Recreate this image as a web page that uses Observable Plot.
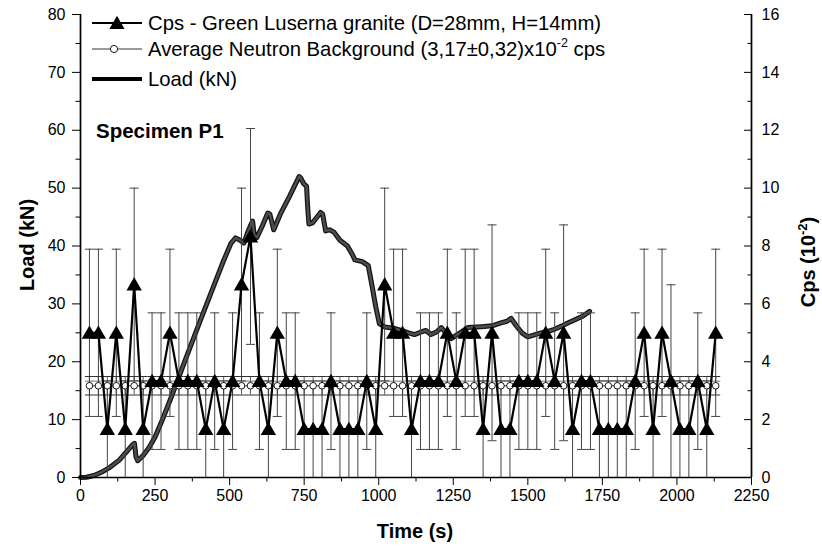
<!DOCTYPE html>
<html><head><meta charset="utf-8">
<script src="https://cdn.jsdelivr.net/npm/d3@7"></script>
<script src="https://cdn.jsdelivr.net/npm/@observablehq/plot@0.6"></script>
<style>
body{margin:0;background:#fff}
#chart{width:822px;height:553px}
</style>
</head><body><div id="chart"></div>
<script>
// ---- data ----
const sampleTime = [30,60,90,120,150,180,210,240,270,300,330,360,390,420,450,480,510,540,570,600,630,660,690,720,750,780,810,840,870,900,930,960,990,1020,1050,1080,1110,1140,1170,1200,1230,1260,1290,1320,1350,1380,1410,1440,1470,1500,1530,1560,1590,1620,1650,1680,1710,1740,1770,1800,1830,1860,1890,1920,1950,1980,2010,2040,2070,2100,2130];
const cpsValue = [5,5,1.67,5,1.67,6.67,1.67,3.33,3.33,5,3.33,3.33,3.33,1.67,3.33,1.67,3.33,6.67,8.33,3.33,1.67,5,3.33,3.33,1.67,1.67,1.67,3.33,1.67,1.67,1.67,3.33,1.67,6.67,5,5,1.67,3.33,3.33,3.33,5,3.33,5,5,1.67,5,1.67,1.67,3.33,3.33,3.33,5,3.33,5,1.67,3.33,3.33,1.67,1.67,1.67,1.67,3.33,5,1.67,5,3.33,1.67,1.67,3.33,1.67,5];
const cpsError = [2.89,2.89,1.67,2.89,1.67,3.33,1.67,2.36,2.36,2.89,2.36,2.36,2.36,1.67,2.36,1.67,2.36,3.33,3.73,2.36,1.67,2.89,2.36,2.36,1.67,1.67,1.67,2.36,1.67,1.67,1.67,2.36,1.67,3.33,2.89,2.89,1.67,2.36,2.36,2.36,2.89,2.36,2.89,2.89,1.67,3.73,1.67,1.67,2.36,2.36,2.36,2.89,2.36,3.73,1.67,2.36,2.36,1.67,1.67,1.67,1.67,2.36,2.89,1.67,2.89,3.33,1.67,1.67,2.36,1.67,2.89];
const bgMean = 3.17;
const bgError = 0.32;
const bgInnerLine = 3.33;
const loadTime  = [0,20,45,70,100,130,157,175,181,186,192,210,230,250,270,300,330,360,400,440,480,505,520,535,548,560,570,577,583,592,610,628,635,648,670,700,733,738,748,758,762,766,778,790,805,812,822,835,850,870,895,912,920,945,965,978,990,1002,1020,1050,1075,1100,1120,1140,1158,1175,1195,1210,1225,1243,1270,1299,1330,1354,1380,1410,1430,1444,1460,1480,1500,1525,1545,1570,1589,1615,1634,1660,1685,1707];
const loadValue = [0,0.05,0.35,0.9,1.8,3.0,4.6,5.7,5.9,3.6,2.9,3.8,5.2,7.0,9.4,13.3,17.4,21.5,26.9,32.2,37.5,40.5,41.4,41.0,40.5,42.3,43.5,44.3,41.8,41.5,43.5,45.7,45.5,42.8,45.5,48.5,52.0,51.8,50.8,50.3,46.5,43.8,44.0,44.8,45.8,45.5,42.6,42.8,42.4,41.0,40.0,38.5,37.6,37.3,36.6,33.0,29.5,26.6,26.0,25.8,25.4,25.0,24.7,25.1,25.4,24.7,25.2,25.9,25.0,24.0,24.9,25.9,26.0,26.1,26.2,26.7,27.0,27.5,26.3,25.0,24.3,24.7,25.0,25.3,25.6,26.2,26.7,27.3,27.9,28.7];
const timeTicks = [0,250,500,750,1000,1250,1500,1750,2000,2250];
const timeMinorTicks = [125,375,625,875,1125,1375,1625,1875,2125];
const loadTicks = [0,10,20,30,40,50,60,70,80];
const loadMinorTicks = [5,15,25,35,45,55,65,75];
const cpsTicks = [0,2,4,6,8,10,12,14,16];
const cpsMinorTicks = [1,3,5,7,9,11,13,15];
const legendCps = "Cps - Green Luserna granite (D=28mm, H=14mm)";
const legendBgMain = "Average Neutron Background (3,17\u00b10,32)x10";
const legendBgSup = "-2";
const legendBgTail = " cps";
const legendLoad = "Load (kN)";
const specimenLabel = "Specimen P1";
const xTitle = "Time (s)";
const yLeftTitle = "Load (kN)";
const yRightTitle = "Cps (10";
const yRightSup = "-2";

// ---- build ----
const K = 5; // right axis (0-16) drawn on left scale (0-80)
const cps = sampleTime.map((t,i)=>({t, y: cpsValue[i]*K, lo: Math.max(0,(cpsValue[i]-cpsError[i]))*K, hi: (cpsValue[i]+cpsError[i])*K}));
const bg = sampleTime.map(t=>({t, y: bgMean*K, lo:(bgMean-bgError)*K, hi:(bgMean+bgError)*K, mid: bgInnerLine*K}));
const load = loadTime.map((t,i)=>({t, v: loadValue[i]}));

const capSym = {draw(ctx){ ctx.moveTo(-4.5,0); ctx.lineTo(4.5,0); }};
const font = "'Liberation Sans', Arial, Helvetica, sans-serif";

const svg = Plot.plot({
  width: 822, height: 553,
  marginLeft: 80, marginRight: 71, marginTop: 14, marginBottom: 76,
  x: {domain: [0, 2250]},
  y: {domain: [0, 80]},
  style: {fontFamily: font, fontSize: "16px", color: "#000", background: "#fff", overflow: "visible"},
  marks: [
    // load curve
    Plot.line(load, {x: "t", y: "v", stroke: "#151515", strokeWidth: 5}),
    Plot.line(load, {x: "t", y: "v", stroke: "#4e4e4e", strokeWidth: 2.4}),
    // cps error bars
    Plot.ruleX(cps, {x: "t", y1: "lo", y2: "hi", stroke: "#444", strokeWidth: 1}),
    Plot.dot(cps, {x: "t", y: "hi", symbol: capSym, stroke: "#444", strokeWidth: 1, fill: "none"}),
    Plot.dot(cps.filter(d=>d.lo>0), {x: "t", y: "lo", symbol: capSym, stroke: "#444", strokeWidth: 1, fill: "none"}),
    // background band
    Plot.ruleX(bg, {x: "t", y1: "lo", y2: "hi", stroke: "#333", strokeWidth: 0.8}),
    Plot.dot(bg, {x: "t", y: "hi", symbol: capSym, stroke: "#333", strokeWidth: 1, fill: "none"}),
    Plot.dot(bg, {x: "t", y: "lo", symbol: capSym, stroke: "#333", strokeWidth: 1, fill: "none"}),
    Plot.dot(bg, {x: "t", y: "mid", symbol: capSym, stroke: "#555", strokeWidth: 0.8, fill: "none"}),
    Plot.line(bg, {x: "t", y: "y", stroke: "#000", strokeWidth: 0.8}),
    Plot.dot(bg, {x: "t", y: "y", r: 3.3, fill: "#fff", stroke: "#000", strokeWidth: 0.9}),
    // cps series
    Plot.line(cps, {x: "t", y: "y", stroke: "#000", strokeWidth: 2.2}),
    Plot.dot(cps, {x: "t", y: "y", symbol: "triangle", r: 5.7, fill: "#000", stroke: "none", dy: 1.5}),
    // axes
    Plot.axisX(timeTicks, {tickSize: 8, tickPadding: 4, tickFormat: d => String(d), label: null, fontSize: 16}),
    Plot.axisX(timeMinorTicks, {tickSize: 4.5, tickFormat: () => "", label: null}),
    Plot.axisY(loadTicks, {anchor: "left", tickSize: 8, tickPadding: 7, tickFormat: d => String(d), label: null, fontSize: 16}),
    Plot.axisY(loadMinorTicks, {anchor: "left", tickSize: 4.5, tickFormat: () => "", label: null}),
    Plot.axisY(cpsTicks.map(v=>v*K), {anchor: "right", tickSize: -8, tickPadding: 18, tickFormat: d => String(d/K), label: null, fontSize: 16}),
    Plot.axisY(cpsMinorTicks.map(v=>v*K), {anchor: "right", tickSize: -4.5, tickPadding: 0, tickFormat: () => "", label: null}),
    Plot.ruleX([0], {strokeWidth: 1.7}),
    Plot.ruleX([2250], {strokeWidth: 1.7}),
    Plot.ruleY([0], {strokeWidth: 1.7})
  ]
});
document.getElementById("chart").appendChild(svg);

// ---- legend & titles ----
const s = d3.select(svg);
const g = s.append("g").attr("font-family", font).attr("fill", "#000").attr("text-anchor", "start");
const rows = [23, 49, 79];
const lx0 = 92, lx1 = 142, tx = 148;
const legendSize = 20.3;
// row 1
g.append("line").attr("x1", lx0).attr("x2", lx1).attr("y1", rows[0]).attr("y2", rows[0]).attr("stroke", "#000").attr("stroke-width", 2.2);
g.append("path").attr("d", d3.symbol(d3.symbolTriangle, 100)()).attr("transform", `translate(117,${rows[0]+1.5})`).attr("fill", "#000");
g.append("text").attr("x", tx).attr("y", rows[0]).attr("dy", "0.35em").attr("font-size", legendSize).text(legendCps);
// row 2
g.append("line").attr("x1", lx0).attr("x2", lx1).attr("y1", rows[1]).attr("y2", rows[1]).attr("stroke", "#000").attr("stroke-width", 0.8);
g.append("circle").attr("cx", 114).attr("cy", rows[1]).attr("r", 3.6).attr("fill", "#fff").attr("stroke", "#000").attr("stroke-width", 0.9);
const t2 = g.append("text").attr("x", tx).attr("y", rows[1]).attr("dy", "0.35em").attr("font-size", legendSize);
t2.append("tspan").text(legendBgMain);
t2.append("tspan").attr("font-size", 12.5).attr("dy", "-0.75em").text(legendBgSup);
t2.append("tspan").attr("dy", "0.45em").text(legendBgTail);
// row 3
g.append("line").attr("x1", lx0).attr("x2", lx1).attr("y1", rows[2]).attr("y2", rows[2]).attr("stroke", "#000").attr("stroke-width", 4.2);
g.append("text").attr("x", tx).attr("y", rows[2]).attr("dy", "0.35em").attr("font-size", legendSize).text(legendLoad);
// specimen label
g.append("text").attr("x", 96).attr("y", 131).attr("dy", "0.35em").attr("font-size", 20.5).attr("font-weight", "bold").text(specimenLabel);
// axis titles
g.append("text").attr("x", 415).attr("y", 531).attr("dy", "0.35em").attr("text-anchor", "middle").attr("font-size", 20).attr("font-weight", "bold").text(xTitle);
g.append("text").attr("transform", "translate(27,245) rotate(-90)").attr("dy", "0.35em").attr("text-anchor", "middle").attr("font-size", 20).attr("font-weight", "bold").text(yLeftTitle);
const rt = g.append("text").attr("transform", "translate(808,262) rotate(-90)").attr("dy", "0.35em").attr("text-anchor", "middle").attr("font-size", 20).attr("font-weight", "bold");
rt.append("tspan").text(yRightTitle);
rt.append("tspan").attr("font-size", 13).attr("dy", "-0.6em").text(yRightSup);
rt.append("tspan").attr("dy", "0.4em").text(")");
</script>
</body></html>
